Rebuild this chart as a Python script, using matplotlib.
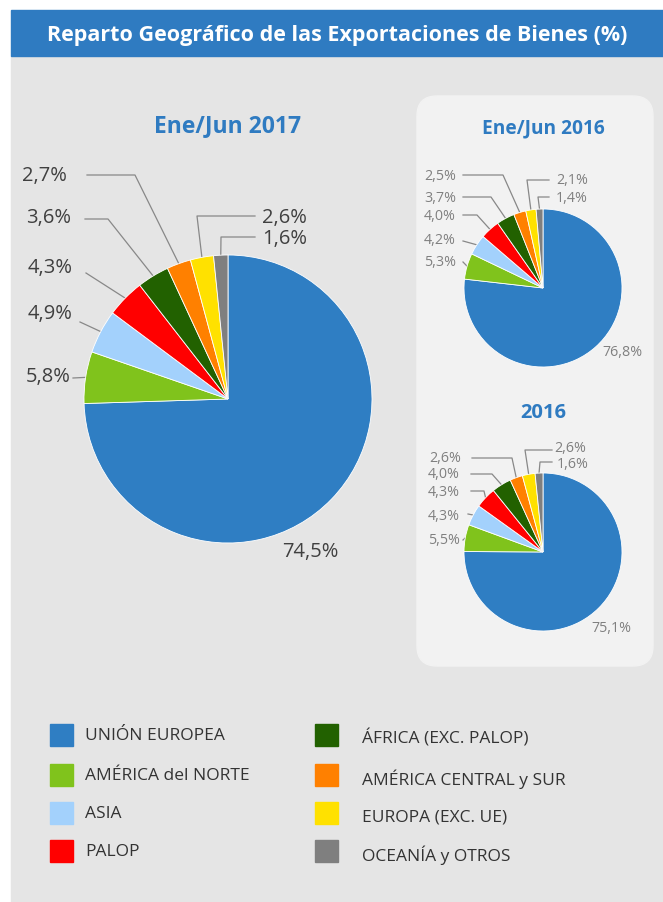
import matplotlib.pyplot as plt
from matplotlib.patches import Rectangle, FancyBboxPatch
from matplotlib.lines import Line2D
from matplotlib.transforms import Affine2D
import numpy as np

plt.rcParams['font.family'] = ['Open Sans', 'DejaVu Sans']

# data
regions = ['UNIÓN EUROPEA', 'AMÉRICA del NORTE', 'ASIA', 'PALOP',
           'ÁFRICA (EXC. PALOP)', 'AMÉRICA CENTRAL y SUR', 'EUROPA (EXC. UE)',
           'OCEANÍA y OTROS']
colors = ['#2f7ec3', '#80c31c', '#a3d1fc', '#ff0000', '#226100', '#ff8000',
          '#ffe100', '#7f7f7f']
h1_2017 = [74.5, 5.8, 4.9, 4.3, 3.6, 2.7, 2.6, 1.6]
h1_2016 = [76.8, 5.3, 4.2, 4.0, 3.7, 2.5, 2.1, 1.4]
y2016 = [75.1, 5.5, 4.3, 4.3, 4.0, 2.6, 2.6, 1.6]

W, H = 663, 903
fig = plt.figure(figsize=(W / 100, H / 100), dpi=100)
# pixel coords, origin top-left
T = Affine2D().scale(1 / 100, -1 / 100).translate(0, H / 100) + fig.dpi_scale_trans

BLUE = '#2f7bc1'
fig.patches.append(Rectangle((0, 0), W, H, color='white', transform=T, zorder=0))
fig.patches.append(Rectangle((11, 57), W - 11, H - 57, color='#e5e5e5', transform=T, zorder=0))
fig.patches.append(Rectangle((11, 11), W - 11, 46, color=BLUE, transform=T, zorder=0))
fig.patches.append(FancyBboxPatch((417, 97), 236, 570, boxstyle='round,pad=0,rounding_size=20',
                                  color='#f2f2f2', transform=T, zorder=0))
fig.text(337, 35, 'Reparto Geográfico de las Exportaciones de Bienes (%)', transform=T,
         color='white', fontsize=15.5, fontweight='bold', ha='center', va='center')


def fmt(v):
    return f'{v:.1f}'.replace('.', ',') + '%'


def draw_pie(values, cx, cy, r, title, ty, tsize, main_lab, labels, lsize, lcolor):
    ax = fig.add_axes([(cx - r) / W, 1 - (cy + r) / H, 2 * r / W, 2 * r / H], zorder=5)
    wedges, _ = ax.pie(values, colors=colors, startangle=90, counterclock=False,
                       wedgeprops=dict(linewidth=0.6, edgecolor='white'))
    ax.set_xlim(-1, 1)
    ax.set_ylim(-1, 1)
    ax.axis('off')
    fig.text(cx, ty, title, transform=T, color=BLUE, fontsize=tsize,
             fontweight='bold', ha='center', va='center')
    fig.text(main_lab[0], main_lab[1], fmt(values[0]), transform=T, color=lcolor,
             fontsize=lsize, ha='center', va='center')
    for i, (tx, tyy, ha, pts) in labels.items():
        w = wedges[i]
        a = np.deg2rad((w.theta1 + w.theta2) / 2)
        ex, ey = cx + r * np.cos(a), cy - r * np.sin(a)
        fig.text(tx, tyy, fmt(values[i]), transform=T, color=lcolor,
                 fontsize=lsize, ha=ha, va='center')
        xs = [p[0] for p in pts] + [ex]
        ys = [p[1] for p in pts] + [ey]
        fig.add_artist(Line2D(xs, ys, transform=T, color='#888888', lw=0.9))


big_labels = {
    1: (71, 377, 'right', [(73, 379)]),
    2: (73, 314, 'right', [(80, 323)]),
    3: (73, 268, 'right', [(86, 274)]),
    4: (71, 218, 'right', [(85, 220), (108, 220)]),
    5: (67, 176, 'right', [(87, 176), (135, 176)]),
    6: (262, 218, 'left', [(255, 217), (197, 217)]),
    7: (262, 239, 'left', [(255, 238), (221, 238)]),
}
draw_pie(h1_2017, 228, 400, 144, 'Ene/Jun 2017', 126, 16.5, (310, 552),
         big_labels, 14.5, '#404040')

s1_labels = {
    1: (456, 262, 'right', [(463, 263)]),
    2: (456, 240, 'right', [(463, 242)]),
    3: (456, 217, 'right', [(463, 216), (477, 216)]),
    4: (456, 198, 'right', [(463, 198), (491, 198)]),
    5: (456, 177, 'right', [(463, 176), (503, 176)]),
    6: (556, 181, 'left', [(549, 181), (527, 181)]),
    7: (556, 198, 'left', [(549, 198), (538, 198)]),
}
draw_pie(h1_2016, 543, 289, 79, 'Ene/Jun 2016', 128, 13.8, (622, 353),
         s1_labels, 10.3, '#808080')

s2_labels = {
    1: (460, 540, 'right', [(463, 541)]),
    2: (460, 516, 'right', [(468, 515)]),
    3: (460, 492, 'right', [(471, 492), (484, 492)]),
    4: (460, 475, 'right', [(471, 475), (492, 475)]),
    5: (461, 459, 'right', [(472, 459), (512, 459)]),
    6: (554, 449, 'left', [(552, 451), (525, 451)]),
    7: (557, 464, 'left', [(552, 463), (540, 463)]),
}
draw_pie(y2016, 543, 553, 79, '2016', 413, 14.5, (611, 628),
         s2_labels, 10.3, '#808080')

# legend
rows = [736, 776, 814, 852]
for i, name in enumerate(regions):
    col, row = divmod(i, 4)
    sx = 50 if col == 0 else 315
    tx = 85 if col == 0 else 362
    y = rows[row]
    fig.patches.append(Rectangle((sx, y - 11), 23, 22, color=colors[i], transform=T))
    fig.text(tx, y + (0 if col == 0 else 3), name, transform=T, color='#333333',
             fontsize=12.5, ha='left', va='center')

fig.savefig('out.png', dpi=100)
